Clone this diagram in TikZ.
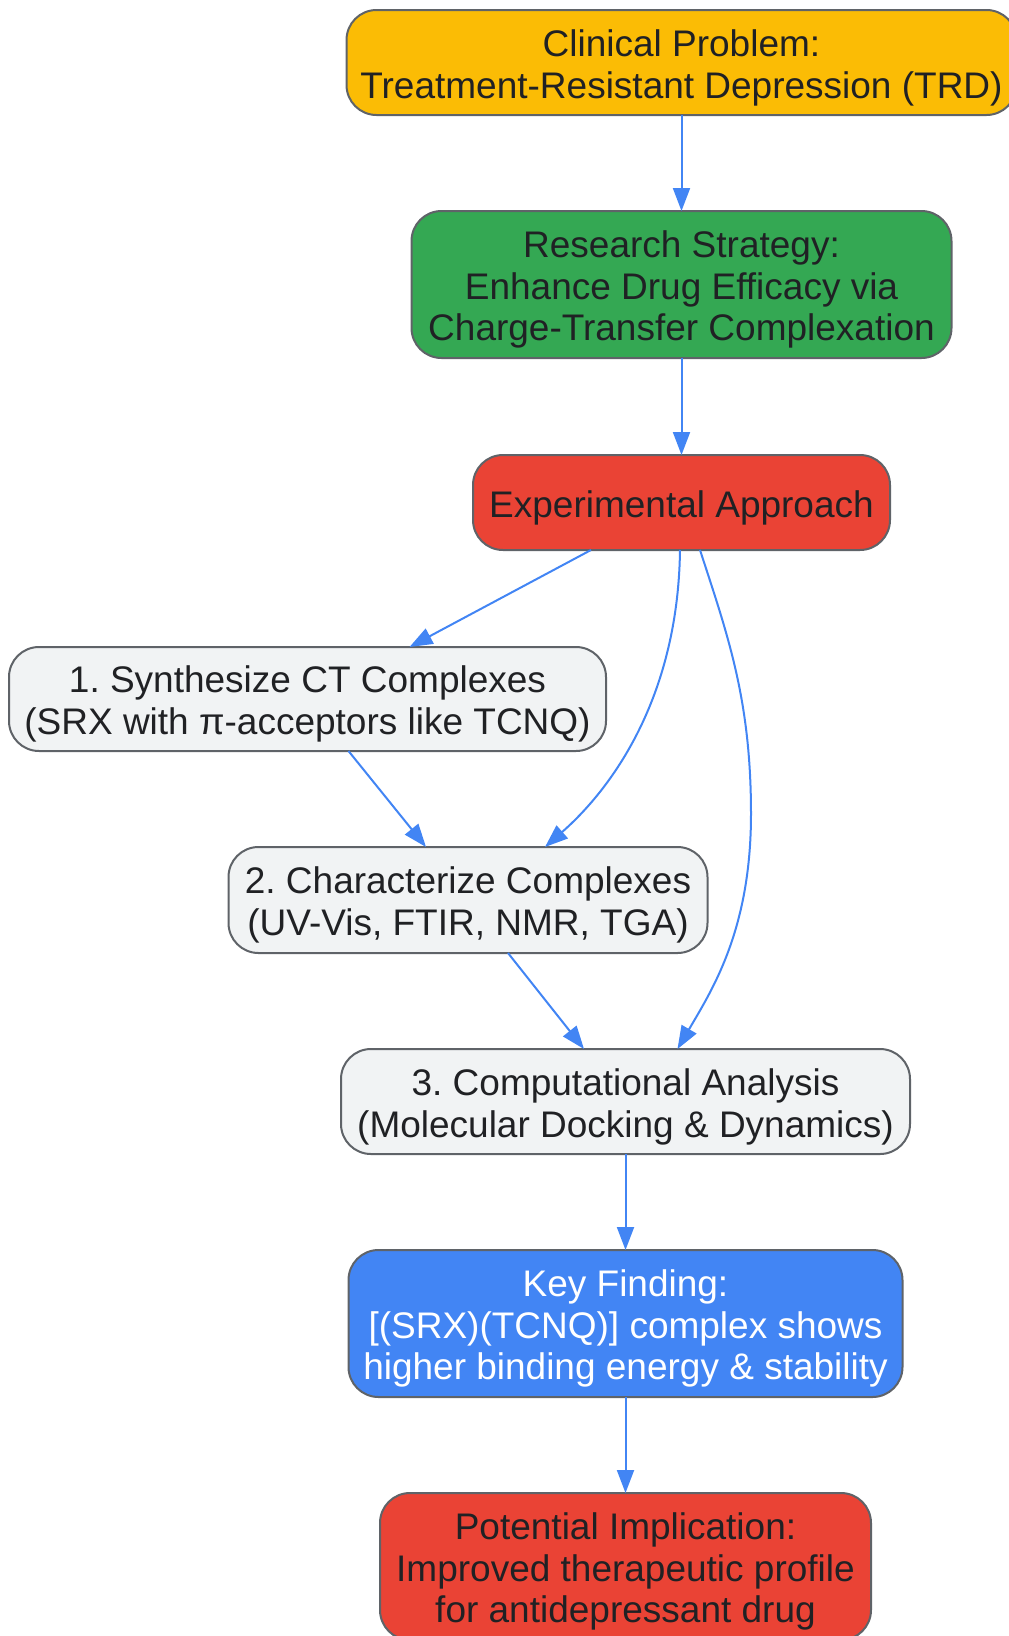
\documentclass[tikz,border=0pt]{standalone}
\usepackage{fontspec}
\setmainfont{Liberation Sans}
\usetikzlibrary{arrows.meta,calc}
\definecolor{gyellow}{HTML}{FBBC05}
\definecolor{ggreen}{HTML}{34A853}
\definecolor{gred}{HTML}{EA4335}
\definecolor{gblue}{HTML}{4285F4}
\definecolor{ggrey}{HTML}{F1F3F4}
\definecolor{gborder}{HTML}{5F6368}
\definecolor{gtext}{HTML}{202124}
\newcommand\firstl{\rule{0pt}{37.5pt}}
\newcommand\lastl{\rule[-8pt]{0pt}{8pt}}
\tikzset{
  box/.style={draw=gborder, line width=2pt, rounded corners=30pt, align=center,
    inner sep=0pt, outer sep=0pt, text=gtext,
    font=\fontsize{37}{41.7}\selectfont\frenchspacing},
  conn/.style={draw=gblue, line width=2pt, -{Triangle[length=23pt,width=17pt]}}
}
\begin{document}
\begin{tikzpicture}[x=1pt,y=-1pt]
\path[use as bounding box] (0,0) rectangle (1009,1636);
\clip (0,0) rectangle (1009,1636);
\node[box, fill=gyellow, minimum width=670pt, minimum height=105pt] (top) at (681.5,62.5)
  {\firstl Clinical Problem:\\Treatment-Resistant Depression (TRD)\lastl};
\node[box, fill=ggreen, minimum width=540pt, minimum height=147pt] (strat) at (681.5,284.5)
  {\firstl Research Strategy:\\Enhance Drug Efficacy via\\Charge-Transfer Complexation\lastl};
\node[box, fill=gred, minimum width=417pt, minimum height=95pt] (exp) at (681.5,502.5)
  {\firstl Experimental Approach\lastl};
\node[box, fill=ggrey, minimum width=597pt, minimum height=104pt] (s1) at (307.5,699)
  {\firstl 1. Synthesize CT Complexes\\(SRX with π-acceptors like TCNQ)\lastl};
\node[box, fill=ggrey, minimum width=479pt, minimum height=106pt] (s2) at (468,900)
  {\firstl 2. Characterize Complexes\\(UV-Vis, FTIR, NMR, TGA)\lastl};
\node[box, fill=ggrey, minimum width=569pt, minimum height=105pt] (s3) at (625.5,1101.5)
  {\firstl 3. Computational Analysis\\(Molecular Docking \& Dynamics)\lastl};
\node[box, fill=gblue, text=white, minimum width=554pt, minimum height=147pt] (key) at (625.5,1323.5)
  {\firstl Key Finding:\\{[}(SRX)(TCNQ){]} complex shows\\higher binding energy \& stability\lastl};
\node[box, fill=gred, minimum width=491pt, minimum height=147pt] (impl) at (625.5,1566.5)
  {\firstl Potential Implication:\\Improved therapeutic profile\\for antidepressant drug\lastl};

\draw[conn] (top.south) -- (strat.north);
\draw[conn] (strat.south) -- (exp.north);
\draw[conn] ($(exp.south)+(-90.5,0)$) -- ($(s1.north)+(102,0)$);
\draw[conn] ($(s1.south)+(41,0)$) -- ($(s2.north)+(-42,0)$);
\draw[conn] ($(s2.south)+(40,0)$) -- ($(s3.north)+(-41.5,0)$);
\draw[conn] ($(exp.south)+(-1.5,0)$) .. controls (678,700) and (610,790) .. ($(s2.north)+(77,0)$);
\draw[conn] ($(exp.south)+(18.5,0)$) .. controls (728,636) and (751,700) .. (751,814)
  .. controls (751,930) and (712,990) .. ($(s3.north)+(52,0)$);
\draw[conn] (s3.south) -- (key.north);
\draw[conn] (key.south) -- (impl.north);
\end{tikzpicture}
\end{document}
